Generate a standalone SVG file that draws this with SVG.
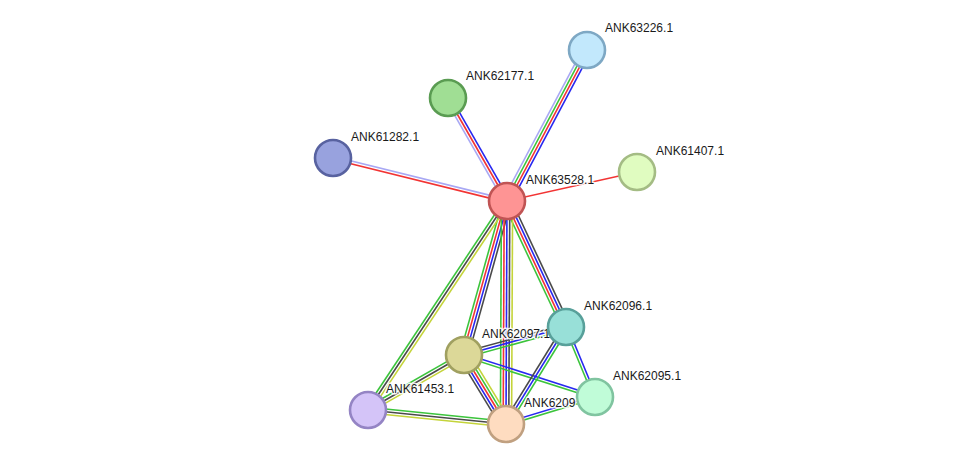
<svg xmlns="http://www.w3.org/2000/svg" width="975" height="470" viewBox="0 0 975 470">
<style>
line{stroke-width:1.6;fill:none}
.lv{stroke:#a8a8f4}.gr{stroke:#3cc43c}.rd{stroke:#f23434}.bl{stroke:#2828f0}.bk{stroke:#4a4a4a}.ye{stroke:#c4d43a}
circle{stroke-width:2.6}
text{font-family:"Liberation Sans",Arial,sans-serif;font-size:12px;fill:#1a1a1a;stroke:#fff;stroke-width:3;stroke-opacity:0.85;paint-order:stroke;stroke-linejoin:round}
</style>
<rect width="975" height="470" fill="#fff"/>
<g id="connectors">
<g transform="translate(507,201) rotate(-62.08)"><line x2="170.9" y1="-4.2" y2="-4.2" class="lv"/><line x2="170.9" y1="-1.4" y2="-1.4" class="gr"/><line x2="170.9" y1="1.4" y2="1.4" class="rd"/><line x2="170.9" y1="4.2" y2="4.2" class="bl"/></g>
<g transform="translate(507,201) rotate(-119.8)"><line x2="118.7" y1="-2.8" y2="-2.8" class="lv"/><line x2="118.7" class="rd"/><line x2="118.7" y1="2.8" y2="2.8" class="bl"/></g>
<g transform="translate(507,201) rotate(-166.1)"><line x2="179.2" y1="1.4" y2="1.4" class="lv"/><line x2="179.2" y1="-1.4" y2="-1.4" class="rd"/></g>
<g transform="translate(507,201) rotate(-12.58)"><line x2="133.2" class="rd"/></g>
<g transform="translate(507,201) rotate(64.9)"><line x2="139.1" y1="4.2" y2="4.2" class="gr"/><line x2="139.1" y1="1.4" y2="1.4" class="rd"/><line x2="139.1" y1="-1.4" y2="-1.4" class="bl"/><line x2="139.1" y1="-4.2" y2="-4.2" class="bk"/></g>
<g transform="translate(507,201) rotate(105.6)"><line x2="159.9" y1="4.2" y2="4.2" class="gr"/><line x2="159.9" y1="1.4" y2="1.4" class="rd"/><line x2="159.9" y1="-1.4" y2="-1.4" class="bl"/><line x2="159.9" y1="-4.2" y2="-4.2" class="bk"/></g>
<g transform="translate(507,201) rotate(90.26)"><line x2="223" y1="5.6" y2="5.6" class="gr"/><line x2="223" y1="2.8" y2="2.8" class="rd"/><line x2="223" class="bl"/><line x2="223" y1="-2.8" y2="-2.8" class="bk"/><line x2="223" y1="-5.6" y2="-5.6" class="ye"/></g>
<g transform="translate(507,201) rotate(123.6)"><line x2="251" y1="2.8" y2="2.8" class="gr"/><line x2="251" class="bk"/><line x2="251" y1="-2.8" y2="-2.8" class="ye"/></g>
<g transform="translate(464,355) rotate(-15.35)"><line x2="105.8" y1="-2.8" y2="-2.8" class="bk"/><line x2="105.8" class="bl"/><line x2="105.8" y1="2.8" y2="2.8" class="gr"/></g>
<g transform="translate(464,355) rotate(17.78)"><line x2="137.6" y1="-1.4" y2="-1.4" class="bl"/><line x2="137.6" y1="1.4" y2="1.4" class="gr"/></g>
<g transform="translate(464,355) rotate(150.2)"><line x2="110.6" y1="2.8" y2="2.8" class="gr"/><line x2="110.6" class="bk"/><line x2="110.6" y1="-2.8" y2="-2.8" class="ye"/></g>
<g transform="translate(464,355) rotate(58.67)"><line x2="80.8" y1="5.6" y2="5.6" class="bk"/><line x2="80.8" y1="2.8" y2="2.8" class="bl"/><line x2="80.8" class="rd"/><line x2="80.8" y1="-2.8" y2="-2.8" class="gr"/><line x2="80.8" y1="-5.6" y2="-5.6" class="ye"/></g>
<g transform="translate(566,327) rotate(67.5)"><line x2="75.8" y1="1.4" y2="1.4" class="gr"/><line x2="75.8" y1="-1.4" y2="-1.4" class="bl"/></g>
<g transform="translate(566,327) rotate(121.7)"><line x2="114.1" y1="2.8" y2="2.8" class="bk"/><line x2="114.1" class="bl"/><line x2="114.1" y1="-2.8" y2="-2.8" class="gr"/></g>
<g transform="translate(368,410) rotate(5.79)"><line x2="138.7" y1="-2.8" y2="-2.8" class="gr"/><line x2="138.7" class="bk"/><line x2="138.7" y1="2.8" y2="2.8" class="ye"/></g>
<g transform="translate(595,397) rotate(163.1)"><line x2="93" y1="1.4" y2="1.4" class="bl"/><line x2="93" y1="-1.4" y2="-1.4" class="gr"/></g>
</g>
<g id="ANK63528.1"><circle cx="507" cy="201" r="18" fill="#fe9494" stroke="#c05454"/><text x="526" y="184">ANK63528.1</text></g>
<g id="ANK63226.1"><circle cx="587" cy="50" r="18" fill="#c2e8fc" stroke="#7ea8c4"/><text x="605" y="32">ANK63226.1</text></g>
<g id="ANK62177.1"><circle cx="448" cy="98" r="18" fill="#a0de94" stroke="#5a9c52"/><text x="466" y="80">ANK62177.1</text></g>
<g id="ANK61282.1"><circle cx="333" cy="158" r="18" fill="#98a2de" stroke="#5862a0"/><text x="351" y="141">ANK61282.1</text></g>
<g id="ANK61407.1"><circle cx="637" cy="172" r="18" fill="#e0fcc0" stroke="#a4bc84"/><text x="656" y="155">ANK61407.1</text></g>
<g id="ANK62097.1"><circle cx="464" cy="355" r="18" fill="#dcd898" stroke="#a0a060"/><text x="482" y="338">ANK62097.1</text></g>
<g id="ANK62096.1"><circle cx="566" cy="327" r="18" fill="#98e0d8" stroke="#58a09a"/><text x="584" y="310">ANK62096.1</text></g>
<g id="ANK62095.1"><circle cx="595" cy="397" r="18" fill="#c0fcd8" stroke="#80c4a0"/><text x="613" y="380">ANK62095.1</text></g>
<g id="ANK61453.1"><circle cx="368" cy="410" r="18" fill="#d4c4f8" stroke="#9484c4"/><text x="386" y="393">ANK61453.1</text></g>
<g id="ANK6209"><circle cx="506" cy="424" r="18" fill="#fedcc0" stroke="#c0a080"/><text x="524" y="407">ANK6209</text></g>
</svg>
